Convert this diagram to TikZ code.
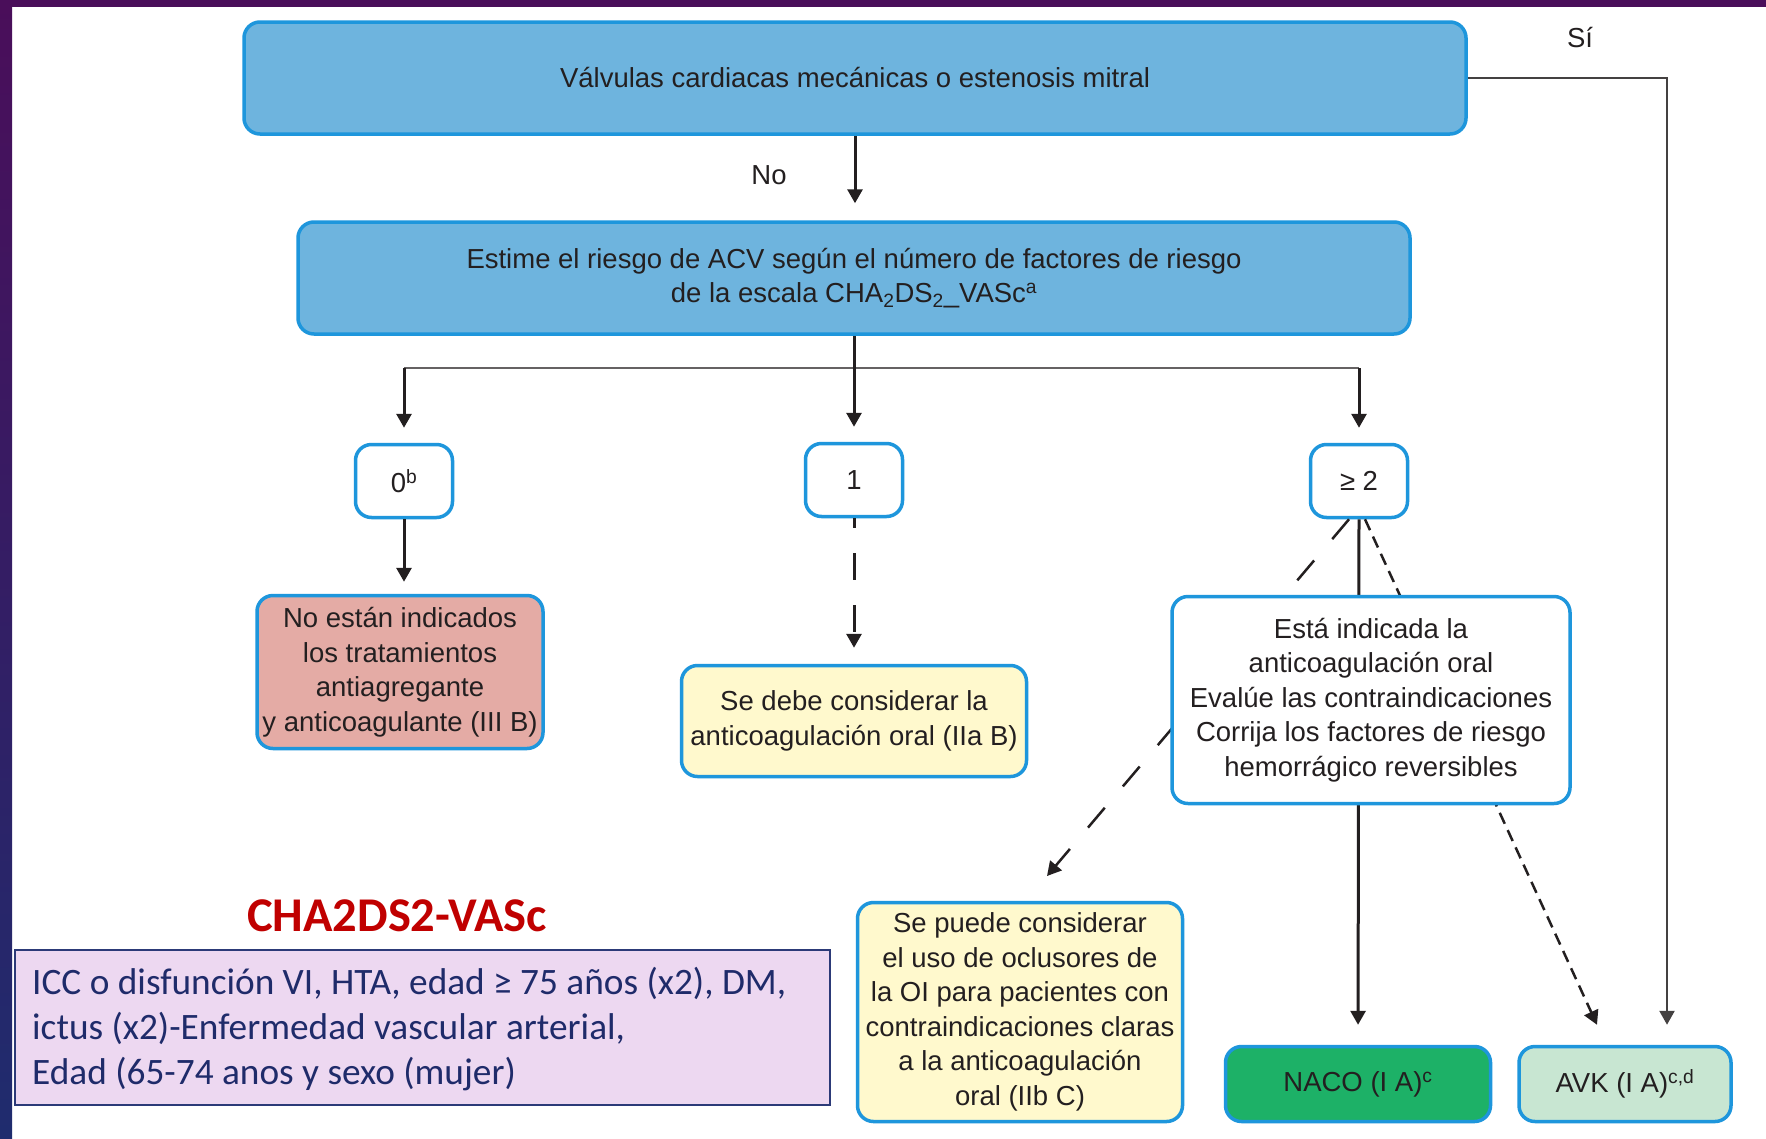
\documentclass[tikz,border=0pt]{standalone}
\usepackage{fontspec}
\setmainfont{Liberation Sans}
\newfontfamily\calfont{Carlito}
\usetikzlibrary{arrows.meta}

\definecolor{boxblue}{HTML}{1E96DC}
\definecolor{fillblue}{HTML}{6EB4DE}
\definecolor{pinkfill}{HTML}{E4ABA5}
\definecolor{yellowfill}{HTML}{FFF9CD}
\definecolor{nacogreen}{HTML}{1DB167}
\definecolor{avkgreen}{HTML}{C8E6D2}
\definecolor{lavfill}{HTML}{EDD8F1}
\definecolor{lavborder}{HTML}{2C3A78}
\definecolor{navytext}{HTML}{1F2B6A}
\definecolor{titlered}{HTML}{C00000}
\definecolor{ink}{HTML}{231F20}
\definecolor{stripTop}{HTML}{4A0E5A}
\definecolor{stripBottom}{HTML}{1F2C6E}

\newcommand\fcfont{\fontsize{27.5}{34.5}\selectfont}

\begin{document}
\begin{tikzpicture}[x=1pt,y=-1pt,
  fcbox/.style={draw=boxblue, line width=3.5pt, rounded corners=16pt,
    align=center, font=\fcfont, text=ink, inner sep=0pt},
  bluebox/.style={fcbox, fill=fillblue},
  scorebox/.style={fcbox, fill=white, minimum width=97pt, minimum height=73pt},
  arr/.style={draw=ink, line width=3pt, -{Triangle[width=15pt,length=14pt]}},
  thinarr/.style={draw=ink!85, line width=2.5pt, -{Triangle[width=15pt,length=14pt]}},
  branchline/.style={draw=ink!70, line width=2pt},
  lbl/.style={font=\fcfont, text=ink, inner sep=0pt}
]
\useasboundingbox (0,0) rectangle (1766,1138);

% page background with the slide frame strips
\fill[white] (0,0) rectangle (1766,1138);
\fill[stripTop] (0,0) rectangle (1766,7);
\shade[top color=stripTop, bottom color=stripBottom] (0,0) rectangle (12,1138);

% main question and risk estimation
\node[bluebox, minimum width=1222pt, minimum height=112pt] (valv) at (855,78)
  {Válvulas cardiacas mecánicas o estenosis mitral};
\node[bluebox, minimum width=1112pt, minimum height=112pt] (riesgo) at (854,278)
  {Estime el riesgo de ACV según el número de factores de riesgo\\
   de la escala CHA\textsubscript{2}DS\textsubscript{2}\_VASc\textsuperscript{a}};

\node[lbl] (no) at (769,175) {No};
\node[lbl] (si) at (1580,38) {Sí};

% score boxes
\node[scorebox] (s0) at (404,481) {0\textsuperscript{b}};
\node[scorebox] (s1) at (854,480) {1};
\node[scorebox] (s2) at (1359,481) {≥ 2};

% outcomes
\node[fcbox, fill=pinkfill, minimum width=286pt, minimum height=153pt] (none) at (400,672)
  {No están indicados\\los tratamientos\\antiagregante\\y anticoagulante (III B)};
\node[fcbox, fill=yellowfill, minimum width=345pt, minimum height=111pt] (consider) at (854,721)
  {Se debe considerar la\\anticoagulación oral (IIa B)};
\node[fcbox, fill=yellowfill, minimum width=325pt, minimum height=219pt] (oi) at (1020,1012)
  {Se puede considerar\\el uso de oclusores de\\la OI para pacientes con\\contraindicaciones claras\\a la anticoagulación\\oral (IIb C)};
\node[fcbox, fill=nacogreen, minimum width=265pt, minimum height=75pt] (naco) at (1358,1084)
  {NACO (I A)\textsuperscript{c}};
\node[fcbox, fill=avkgreen, minimum width=212pt, minimum height=75pt] (avk) at (1625,1084)
  {AVK (I A)\textsuperscript{c,d}};

% connectors
\draw[arr, shorten >=17pt] (valv.south) -- (riesgo.north -| valv.south);
\draw[thinarr] (valv.east) -| ([xshift=42pt,yshift=20pt]avk.north);

\coordinate (br) at (854,368);
\draw[branchline] (s0.north |- br) -- (s2.north |- br);
\draw[arr, shorten >=15pt] (riesgo.south -| s1.north) -- (s1.north);
\draw[arr, shorten >=15pt] (s0.north |- br) -- (s0.north);
\draw[arr, shorten >=15pt] (s2.north |- br) -- (s2.north);

\draw[arr, shorten >=12pt] (s0.south) -- (none.north -| s0.south);
\draw[arr, shorten >=16pt, dash pattern=on 27pt off 25pt, dash phase=17pt]
  (s1.south) -- (consider.north -| s1.south);

\coordinate (oitip) at (1047,876);
\draw[arr, line width=2.5pt, dash pattern=on 26pt off 28pt] ([xshift=-10pt]s2.south) -- (oitip);
\draw[arr, line width=2.5pt, dash pattern=on 12pt off 7pt] ([xshift=6pt]s2.south) -- ([xshift=-28pt,yshift=20pt]avk.north);
\draw[arr, shorten >=20pt] (s2.south) -- (naco.north);

% indication box drawn over the connectors that pass behind it
\node[fcbox, fill=white, minimum width=398pt, minimum height=207pt] (indic) at (1371,700)
  {Está indicada la\\anticoagulación oral\\Evalúe las contraindicaciones\\Corrija los factores de riesgo\\hemorrágico reversibles};

% CHA2DS2-VASc legend
\node[font=\calfont\bfseries\fontsize{48.5}{52}\selectfont, text=titlered, inner sep=0pt] (title) at (397,916) {CHA2DS2-VASc};
\node[draw=lavborder, fill=lavfill, line width=2pt, anchor=north west,
  minimum width=815pt, minimum height=155pt, inner sep=0pt] (legend) at (14,949) {};
\node[font=\calfont\fontsize{37.3}{45}\selectfont, text=navytext, align=left,
  anchor=north west, inner sep=0pt] (legendtext) at (32,967)
  {ICC o disfunción VI, HTA, edad ≥ 75 años (x2), DM,\\
   ictus (x2)-Enfermedad vascular arterial,\\
   Edad (65-74 anos y sexo (mujer)};
\end{tikzpicture}
\end{document}
